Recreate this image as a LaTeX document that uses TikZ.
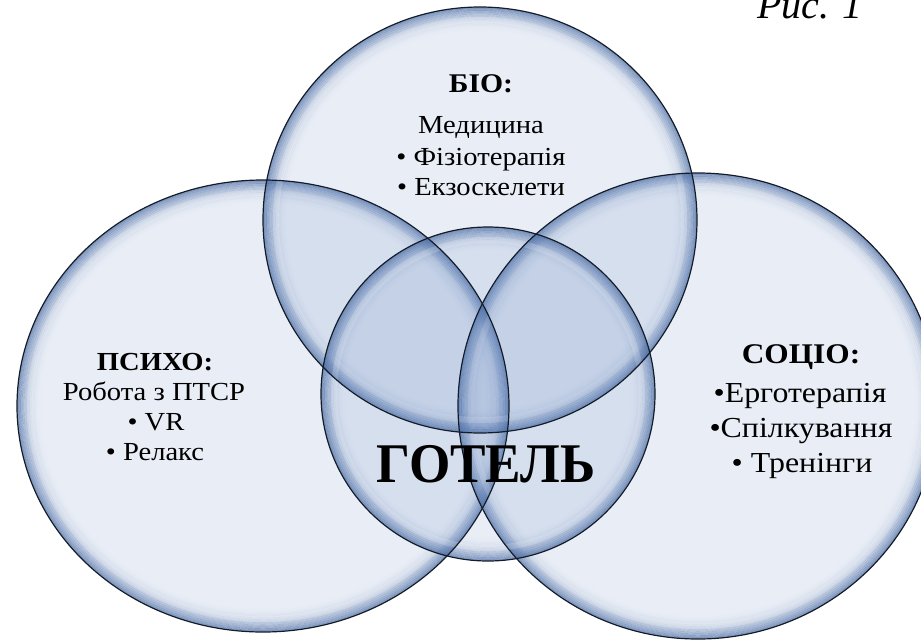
\documentclass[tikz,border=0pt]{standalone}
\usepackage{fontspec}
\setmainfont{Liberation Serif}[FakeStretch=1.1]
\newfontfamily\plainserif{Liberation Serif}
\newfontfamily\narrowserif{Liberation Serif}[FakeStretch=0.95]

\definecolor{glassblue}{RGB}{72,113,180}
\definecolor{rimblue}{RGB}{70,105,162}
\definecolor{edgeline}{RGB}{20,28,40}

\begin{document}
\begin{tikzpicture}[x=1pt,y=-1pt,
  glassbody/.style={fill=glassblue, fill opacity=0.12},
  glassedge/.style={draw=edgeline, line width=1.2pt},
  headtext/.style={anchor=base, inner sep=0pt},
  bodytext/.style={font=\fontsize{26}{30}\selectfont, anchor=base, inner sep=0pt},
  socbody/.style={font=\fontsize{29}{32}\selectfont, anchor=base, inner sep=0pt}]

\useasboundingbox (0,0) rectangle (921,641);

% glass discs: tinted body and a bevelled rim that fades inwards
\foreach \cx/\cy/\rx/\ry in {263/406/246/226, 698/406/240/233, 480/220/217/213, 488/394/167/167}{
  \path[glassbody] (\cx,\cy) ellipse [x radius=\rx, y radius=\ry];
  \foreach \k in {0,...,12}{
    \pgfmathsetmacro\op{0.62*(1-\k/13)^2}
    \draw[rimblue, line width=1.9pt, draw opacity=\op]
      (\cx,\cy) ellipse [x radius=\rx-1-1.8*\k, y radius=\ry-1-1.8*\k];
  }
  \draw[white, line width=6pt, draw opacity=0.18]
    (\cx,\cy) ellipse [x radius=\rx-13, y radius=\ry-13];
}
% outlines
\foreach \cx/\cy/\rx/\ry in {263/406/246/226, 698/406/240/233, 480/220/217/213, 488/394/167/167}{
  \path[glassedge] (\cx,\cy) ellipse [x radius=\rx, y radius=\ry];
}

% caption
\node[font=\plainserif\fontsize{40}{42}\selectfont\itshape, anchor=base, inner sep=0pt] (cap) at (810,18) {Рис. 1};

% БІО
\node[headtext, font=\fontsize{27}{30}\selectfont\bfseries] (bioT) at (481,92) {БІО:};
\node[bodytext] (bio1) at (481,133) {Медицина};
\node[bodytext] (bio2) at (481,165) {• Фізіотерапія};
\node[bodytext] (bio3) at (481,195) {• Екзоскелети};

% ПСИХО
\node[headtext, font=\fontsize{26}{30}\selectfont\bfseries] (psyT) at (155,370) {ПСИХО:};
\node[bodytext] (psy1) at (154,400) {Робота з ПТСР};
\node[bodytext] (psy2) at (156,430) {• VR};
\node[bodytext] (psy3) at (155,460) {• Релакс};

% СОЦІО
\node[headtext, font=\fontsize{28.5}{30}\selectfont\bfseries] (socT) at (801,363) {СОЦІО:};
\node[socbody] (soc1) at (800,402) {•Ерготерапія};
\node[socbody] (soc2) at (801,437) {•Спілкування};
\node[socbody] (soc3) at (802,472) {• Тренінги};

% centre
\node[font=\narrowserif\fontsize{56}{60}\selectfont\bfseries, anchor=base, inner sep=0pt] (hotel) at (486,482) {ГОТЕЛЬ};
\end{tikzpicture}
\end{document}
